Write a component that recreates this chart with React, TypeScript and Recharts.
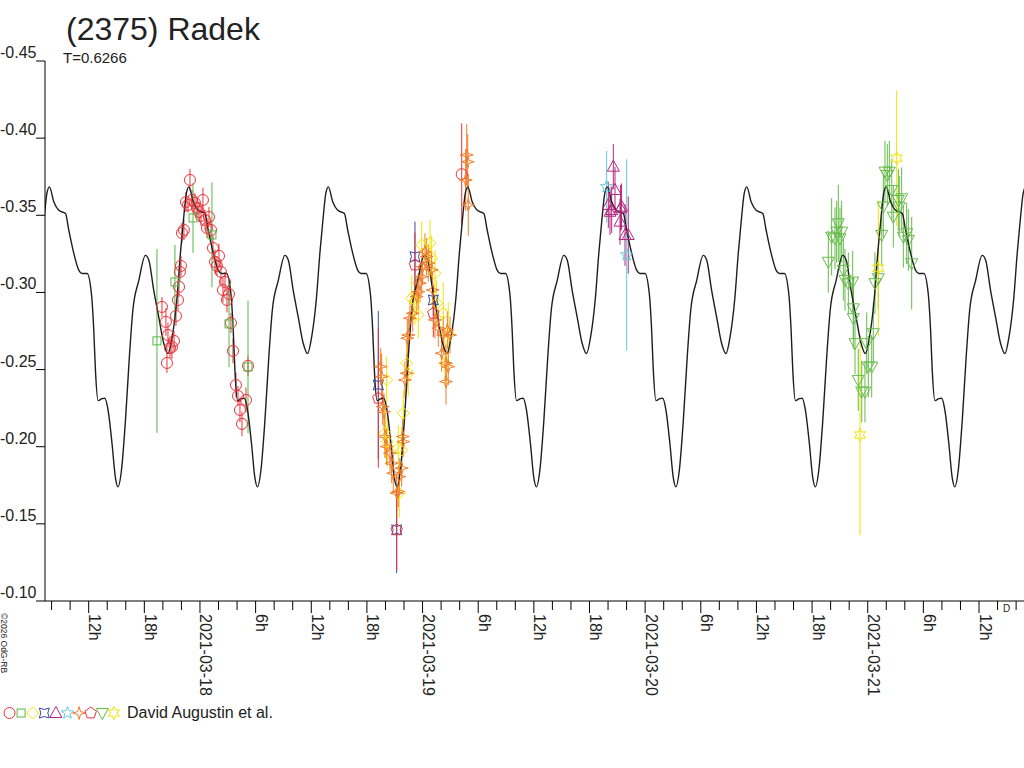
import React from 'react';
import { ComposedChart, Line, Scatter, XAxis, YAxis, ErrorBar } from 'recharts';

const FONT = '"Liberation Sans", Arial, Helvetica, sans-serif';
const INK = '#222';

// ---------------- model curve (one period) ----------------
const PERIOD_H = 15.038; // T = 0.6266 d
const EPOCH_H = 43.92; // a maximum of the model, hours after 2021-03-18 00:00 UT
const curvePhase = [0, 0.032, 0.067, 0.115, 0.139, 0.175, 0.211, 0.234, 0.27, 0.301, 0.318, 0.33, 0.349, 0.378, 0.397, 0.421, 0.449, 0.473, 0.492, 0.516, 0.545, 0.573, 0.598, 0.641, 0.688, 0.713, 0.748, 0.784, 0.82, 0.851, 0.88, 0.915, 0.939, 0.963, 0.982];
const curveMag = [-0.3684, -0.3586, -0.3532, -0.3511, -0.3403, -0.3253, -0.3143, -0.3123, -0.3123, -0.2993, -0.2753, -0.2493, -0.2299, -0.2312, -0.2314, -0.2234, -0.2019, -0.18, -0.174, -0.1844, -0.2169, -0.258, -0.2883, -0.3078, -0.324, -0.3208, -0.3013, -0.284, -0.2669, -0.2604, -0.271, -0.2969, -0.3253, -0.3489, -0.3643];

// ---------------- observations: [hours from 2021-03-18 00:00, mag, error] ----------------
type Obs = [number, number, number];

const redCircles: Obs[] = [
  [-4.10, -0.2906, 0.0065], [-3.67, -0.2809, 0.009], [-3.45, -0.2724, 0.008], [-3.23, -0.264, 0.0065],
  [-3.56, -0.2543, 0.0065], [-3.02, -0.2647, 0.008], [-2.80, -0.2686, 0.0065], [-2.59, -0.2848, 0.0065],
  [-2.37, -0.2951, 0.0065], [-2.26, -0.3036, 0.0065], [-2.16, -0.3133, 0.0065], [-2.05, -0.3172, 0.0065],
  [-1.94, -0.3385, 0.0065], [-1.73, -0.3405, 0.0065], [-1.51, -0.3586, 0.0065], [-1.29, -0.3567, 0.005],
  [-1.08, -0.3729, 0.007], [-0.86, -0.3599, 0.0065], [-0.54, -0.358, 0.0065], [-0.32, -0.3547, 0.0065],
  [-0.11, -0.3522, 0.0065], [0.11, -0.3496, 0.0065], [0.32, -0.3599, 0.008], [0.54, -0.347, 0.0065],
  [0.75, -0.3418, 0.0065], [0.97, -0.3489, 0.0065], [1.19, -0.3405, 0.0065], [1.40, -0.3288, 0.008],
  [1.62, -0.3198, 0.008], [1.83, -0.3172, 0.0065], [2.05, -0.3237, 0.008], [2.26, -0.3133, 0.008],
  [2.48, -0.3016, 0.008], [2.70, -0.3068, 0.0065], [2.91, -0.2951, 0.008], [3.13, -0.299, 0.0065],
  [3.34, -0.2802, 0.0065], [3.56, -0.2621, 0.008], [3.88, -0.24, 0.008], [4.10, -0.2329, 0.0065],
  [4.31, -0.2238, 0.008], [4.53, -0.2148, 0.008], [4.96, -0.2303, 0.008], [5.18, -0.2524, 0.0065],
  [28.22, -0.3766, 0.033],
];
const greenSquares: Obs[] = [
  [-4.64, -0.2686, 0.0596], [-2.70, -0.3068, 0.024], [-0.75, -0.3483, 0.0227],
  [1.29, -0.3373, 0.034], [3.13, -0.2796, 0.028], [5.18, -0.2517, 0.043],
];
const yellowDiamonds: Obs[] = [
  [20.13, -0.2433, 0.015], [19.95, -0.2088, 0.016], [20.20, -0.2033, 0.016], [21.38, -0.199, 0.015],
  [21.75, -0.1979, 0.015], [21.49, -0.1699, 0.016], [21.92, -0.2217, 0.015], [22.29, -0.2541, 0.015],
  [22.46, -0.2476, 0.015], [22.83, -0.2962, 0.015], [23.18, -0.294, 0.015], [23.54, -0.2854, 0.015],
  [23.91, -0.3308, 0.015], [24.80, -0.3319, 0.015], [24.98, -0.3221, 0.015], [25.34, -0.3124, 0.015],
  [25.52, -0.293, 0.015], [26.23, -0.2865, 0.02], [26.77, -0.2736, 0.02], [26.42, -0.2541, 0.015],
];
const blueCrosses: Obs[] = [
  [19.23, -0.24, 0.048], [21.21, -0.1461, 0.028], [23.18, -0.3232, 0.0227], [25.16, -0.2951, 0.01],
];
const magentaTriangles: Obs[] = [
  [44.57, -0.3815, 0.0146], [44.75, -0.3664, 0.015], [44.03, -0.3567, 0.015], [44.21, -0.3523, 0.015],
  [44.39, -0.3534, 0.015], [45.46, -0.3556, 0.015], [45.35, -0.3546, 0.015], [45.29, -0.3459, 0.015],
  [45.83, -0.3372, 0.02], [46.18, -0.3372, 0.025],
];
const cyanStars: Obs[] = [
  [43.85, -0.3685, 0.0232], [46.01, -0.3243, 0.062],
];
const orangeStars: Obs[] = [
  [19.48, -0.2519, 0.012], [19.59, -0.2454, 0.015], [19.70, -0.226, 0.012], [19.84, -0.2227, 0.012],
  [19.95, -0.2066, 0.014], [20.13, -0.2001, 0.012], [20.49, -0.1958, 0.012], [20.67, -0.1893, 0.013],
  [20.84, -0.1828, 0.012], [21.21, -0.1699, 0.012], [21.38, -0.1709, 0.01], [21.49, -0.1806, 0.012],
  [21.75, -0.1861, 0.012], [21.86, -0.2066, 0.012], [21.92, -0.2033, 0.01], [22.10, -0.2433, 0.012],
  [22.29, -0.2476, 0.012], [22.35, -0.2703, 0.012], [22.46, -0.2724, 0.012], [22.64, -0.2833, 0.012],
  [22.94, -0.2865, 0.012], [23.37, -0.2973, 0.012], [23.54, -0.3005, 0.012], [23.72, -0.306, 0.012],
  [23.91, -0.3102, 0.012], [24.01, -0.3167, 0.012], [24.26, -0.3264, 0.012], [24.44, -0.3232, 0.012],
  [24.62, -0.3189, 0.012], [24.98, -0.3146, 0.012], [25.09, -0.3016, 0.012], [25.34, -0.2822, 0.012],
  [25.70, -0.2768, 0.012], [26.06, -0.2606, 0.012], [26.23, -0.2724, 0.012], [26.53, -0.2541, 0.012],
  [26.77, -0.2519, 0.012], [26.53, -0.2422, 0.015], [26.67, -0.2757, 0.012], [26.96, -0.2724, 0.012],
  [28.76, -0.3891, 0.02], [28.87, -0.3847, 0.018], [28.65, -0.3729, 0.02], [28.93, -0.3567, 0.02],
];
const redPentagons: Obs[] = [
  [19.23, -0.2314, 0.045], [21.21, -0.1461, 0.026], [23.18, -0.3178, 0.021], [25.16, -0.2865, 0.0155],
];
const greenTriangles: Obs[] = [
  [67.75, -0.3199, 0.02], [68.11, -0.3361, 0.025], [68.47, -0.3351, 0.02], [68.65, -0.3394, 0.02],
  [68.83, -0.3448, 0.025], [69.01, -0.3351, 0.02], [69.19, -0.3394, 0.02], [69.37, -0.3146, 0.02],
  [69.55, -0.3081, 0.02], [69.91, -0.3059, 0.02], [70.38, -0.307, 0.02], [70.45, -0.2897, 0.02],
  [70.45, -0.2833, 0.02], [70.63, -0.2671, 0.02], [70.98, -0.2433, 0.02], [71.35, -0.2357, 0.02],
  [71.70, -0.2357, 0.02], [72.06, -0.2519, 0.02], [72.43, -0.2519, 0.02], [71.89, -0.2671, 0.02],
  [72.60, -0.2736, 0.02], [72.78, -0.306, 0.02], [73.14, -0.3092, 0.02], [73.51, -0.3373, 0.02],
  [73.68, -0.3556, 0.02], [73.86, -0.3783, 0.02], [74.11, -0.3761, 0.02], [74.33, -0.3783, 0.02],
  [74.59, -0.3664, 0.02], [74.76, -0.3491, 0.02], [75.30, -0.3599, 0.02], [75.66, -0.361, 0.02],
  [75.40, -0.3556, 0.02], [75.84, -0.3361, 0.02], [76.20, -0.3383, 0.02], [76.38, -0.334, 0.02],
  [76.74, -0.3189, 0.03],
];
const yellowStars: Obs[] = [
  [75.12, -0.387, 0.044], [73.14, -0.3157, 0.044], [71.17, -0.2076, 0.065],
];

// ---------------- axes ----------------
const X_DOMAIN: [number, number] = [-16.71, 88.85];
const xTickHours = Array.from({ length: 53 }, (_, i) => -16 + 2 * i);
const majorTickLabels: [number, string][] = [
  [-12, '12h'], [-6, '18h'], [0, '2021-03-18'], [6, '6h'], [12, '12h'], [18, '18h'],
  [24, '2021-03-19'], [30, '6h'], [36, '12h'], [42, '18h'], [48, '2021-03-20'], [54, '6h'],
  [60, '12h'], [66, '18h'], [72, '2021-03-21'], [78, '6h'], [84, '12h'],
];
const yTicks = [-0.45, -0.4, -0.35, -0.3, -0.25, -0.2, -0.15, -0.1];

type Kind = 'circle' | 'square' | 'diamond' | 'cross' | 'triUp' | 'star5' | 'star4' | 'pentagon' | 'triDown' | 'star6';

const seriesList: { name: string; data: Obs[]; color: string; kind: Kind }[] = [
  { name: 's1', data: redCircles, color: '#e8343a', kind: 'circle' },
  { name: 's2', data: greenSquares, color: '#55b947', kind: 'square' },
  { name: 's3', data: yellowDiamonds, color: '#f0e400', kind: 'diamond' },
  { name: 's4', data: blueCrosses, color: '#3a48a8', kind: 'cross' },
  { name: 's5', data: magentaTriangles, color: '#b5287f', kind: 'triUp' },
  { name: 's6', data: cyanStars, color: '#66c8dd', kind: 'star5' },
  { name: 's7', data: orangeStars, color: '#f07d2a', kind: 'star4' },
  { name: 's8', data: redPentagons, color: '#e8343a', kind: 'pentagon' },
  { name: 's9', data: greenTriangles, color: '#66bb4a', kind: 'triDown' },
  { name: 's10', data: yellowStars, color: '#f0e400', kind: 'star6' },
];

// build curve table by repeating the read period over the plotted time span
const curveData: { t: number; m: number }[] = [];
for (let k = -5; k <= 3; k++) {
  curvePhase.forEach((p, i) => {
    const t = EPOCH_H + (k + p) * PERIOD_H;
    if (t > -20 && t < 92) curveData.push({ t, m: curveMag[i] });
  });
}

function starPts(cx: number, cy: number, n: number, ro: number, ri: number): string {
  const pts: string[] = [];
  for (let i = 0; i < 2 * n; i++) {
    const r = i % 2 === 0 ? ro : ri;
    const a = -Math.PI / 2 + (i * Math.PI) / n;
    pts.push(`${(cx + r * Math.cos(a)).toFixed(2)},${(cy + r * Math.sin(a)).toFixed(2)}`);
  }
  return pts.join(' ');
}
function polyPts(cx: number, cy: number, n: number, r: number): string {
  const pts: string[] = [];
  for (let i = 0; i < n; i++) {
    const a = -Math.PI / 2 + (i * 2 * Math.PI) / n;
    pts.push(`${(cx + r * Math.cos(a)).toFixed(2)},${(cy + r * Math.sin(a)).toFixed(2)}`);
  }
  return pts.join(' ');
}

function Marker({ kind, cx, cy, color }: { kind: Kind; cx: number; cy: number; color: string }) {
  const common = { fill: 'none', stroke: color, strokeWidth: 1 };
  if (cx == null || cy == null || isNaN(cx) || isNaN(cy)) return null;
  switch (kind) {
    case 'circle':
      return <circle cx={cx} cy={cy} r={5.5} {...common} />;
    case 'square':
      return <rect x={cx - 4} y={cy - 4} width={8} height={8} {...common} />;
    case 'diamond':
      return <polygon points={`${cx},${cy - 6} ${cx + 6},${cy} ${cx},${cy + 6} ${cx - 6},${cy}`} {...common} />;
    case 'cross':
      return (
        <path
          d={`M${cx - 5},${cy - 5} Q${cx},${cy - 2} ${cx + 5},${cy - 5} Q${cx + 2},${cy} ${cx + 5},${cy + 5} Q${cx},${cy + 2} ${cx - 5},${cy + 5} Q${cx - 2},${cy} ${cx - 5},${cy - 5} Z`}
          {...common}
        />
      );
    case 'triUp':
      return <polygon points={`${cx},${cy - 6.5} ${cx + 6},${cy + 4.5} ${cx - 6},${cy + 4.5}`} {...common} />;
    case 'star5':
      return <polygon points={starPts(cx, cy, 5, 6.5, 2.8)} {...common} />;
    case 'star4':
      return <polygon points={starPts(cx, cy, 4, 6.5, 2)} {...common} />;
    case 'pentagon':
      return <polygon points={polyPts(cx, cy, 5, 6)} {...common} />;
    case 'triDown':
      return <polygon points={`${cx - 6},${cy - 4.5} ${cx + 6},${cy - 4.5} ${cx},${cy + 6.5}`} {...common} />;
    case 'star6':
      return <polygon points={starPts(cx, cy, 6, 6.5, 3.3)} {...common} />;
  }
  return null;
}

const labelFor = (h: number): string | null => {
  const f = majorTickLabels.find(([v]) => v === h);
  return f ? f[1] : null;
};

const XTick = (props: any) => {
  const { x, y, payload } = props;
  const lab = labelFor(payload.value);
  return (
    <g>
      <line x1={x} y1={y} x2={x} y2={y + (lab ? 12 : 9)} stroke="#000" strokeWidth={1} />
      {lab && (
        <text
          x={x + 0.5}
          y={y + 13}
          transform={`rotate(90 ${x + 0.5} ${y + 13})`}
          fontSize={16}
          fontFamily={FONT}
          fill={INK}
          textAnchor="start"
        >
          {lab}
        </text>
      )}
    </g>
  );
};

const YTick = (props: any) => {
  const { x, y, payload } = props;
  return (
    <g>
      <line x1={x - 9} y1={y} x2={x} y2={y} stroke="#000" strokeWidth={1} />
      <text x={x - 8.5} y={y - 3} textAnchor="end" fontSize={16} fontFamily={FONT} fill={INK}>
        {Number(payload.value).toFixed(2)}
      </text>
    </g>
  );
};

export default function App() {
  return (
    <div style={{ position: 'absolute', left: 0, top: 0, width: 1024, height: 768, background: '#fff', overflow: 'hidden' }}>
      <div style={{ position: 'absolute', left: 0, top: 0 }}>
        <ComposedChart width={1024} height={768} margin={{ top: 61, right: 0, bottom: 0, left: 0 }}>
          <XAxis
            type="number"
            dataKey="t"
            domain={X_DOMAIN}
            allowDataOverflow
            ticks={xTickHours}
            interval={0}
            tick={<XTick />}
            tickLine={false}
            tickSize={0}
            tickMargin={0}
            height={167}
            axisLine={{ stroke: '#000', strokeWidth: 1 }}
          />
          <YAxis
            type="number"
            dataKey="m"
            domain={[-0.45, -0.1]}
            reversed
            allowDataOverflow
            ticks={yTicks}
            interval={0}
            tick={<YTick />}
            tickLine={false}
            tickSize={0}
            tickMargin={0}
            width={45}
            axisLine={{ stroke: '#000', strokeWidth: 1 }}
          />
          {seriesList.map((s) => (
            <Scatter
              key={s.name}
              name={s.name}
              data={s.data.map(([t, m, e]) => ({ t, m, e }))}
              isAnimationActive={false}
              shape={(p: any) => <Marker kind={s.kind} cx={p.cx} cy={p.cy} color={s.color} />}
            >
              <ErrorBar dataKey="e" direction="y" width={0} stroke={s.color} strokeWidth={1} />
            </Scatter>
          ))}
          <Line
            data={curveData}
            dataKey="m"
            type="monotone"
            stroke="#1e1e1e"
            strokeWidth={1.4}
            dot={false}
            activeDot={false}
            isAnimationActive={false}
          />
        </ComposedChart>
      </div>
      <svg width={1024} height={768} style={{ position: 'absolute', left: 0, top: 0, pointerEvents: 'none' }}>
        <text x={66} y={40} fontSize={32} fontFamily={FONT} fill={INK}>(2375) Radek</text>
        <text x={63} y={63} fontSize={15} fontFamily={FONT} fill={INK}>T=0.6266</text>
        <text x={1} y={613} transform="rotate(90 1 613)" fontSize={8.5} fontFamily={FONT} fill={INK}>©2026 OdG-RB</text>
        <text x={1003} y={611.5} fontSize={10} fontFamily={FONT} fill={INK}>D</text>
        {seriesList.map((s, i) => (
          <Marker key={s.name} kind={s.kind} cx={9.5 + i * 11.6} cy={713} color={s.color} />
        ))}
        <text x={127} y={718} fontSize={16} fontFamily={FONT} fill={INK}>David Augustin et al.</text>
      </svg>
    </div>
  );
}
